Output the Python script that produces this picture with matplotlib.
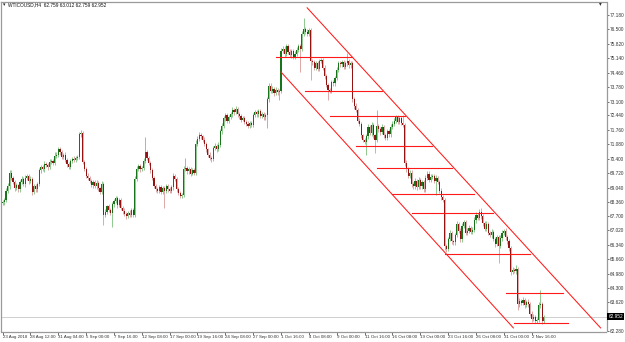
import numpy as np
import matplotlib
matplotlib.use('Agg')
import matplotlib.pyplot as plt
from matplotlib import font_manager

# WTICOUSD H4 closes, 16 bars per row (one x label per row)
closes = [
    68.35, 68.45, 68.9, 69.1, 69.75, 69.5, 69.3, 69.0, 69.15, 68.95, 69.3, 69.45, 69.2, 69.5, 69.6, 69.35,
    69.45, 68.85, 69.1, 68.95, 69.2, 69.85, 70.0, 69.9, 70.15, 70.1, 70.0, 70.25, 70.3, 70.2, 70.55, 70.6,
    70.85, 70.7, 70.5, 70.6, 70.35, 70.15, 70.0, 70.3, 70.4, 70.35, 70.45, 70.5, 71.55, 71.6, 70.25, 69.9,
    69.6, 69.5, 69.35, 69.15, 69.3, 69.1, 69.25, 69.0, 68.85, 69.2, 67.75, 67.9, 68.15, 68.0, 67.85, 68.25,
    68.4, 68.55, 68.2, 68.45, 68.1, 67.95, 67.8, 67.7, 67.85, 67.75, 68.0, 67.75, 69.45, 69.9, 70.05, 69.9,
    69.95, 70.3, 70.7, 70.45, 70.2, 69.85, 69.5, 69.1, 68.95, 68.9, 69.05, 68.85, 69.0, 68.9, 69.1, 68.95,
    68.9, 69.05, 69.6, 69.45, 68.95, 68.8, 68.65, 68.7, 69.9, 69.95, 69.8, 69.9, 69.7, 69.85, 69.75, 71.1,
    71.35, 71.5, 71.45, 71.3, 71.1, 70.85, 70.6, 70.45, 70.4, 70.9, 71.0, 70.85, 71.05, 71.7, 71.95, 72.3,
    72.45, 72.2, 72.35, 72.5, 72.7, 72.6, 72.75, 72.5, 72.4, 72.25, 72.3, 72.15, 72.05, 71.95, 72.1, 72.0,
    72.45, 72.6, 72.5, 72.65, 72.4, 72.5, 72.35, 72.45, 73.2, 73.85, 73.6, 73.7, 73.5, 73.65, 73.55, 73.6,
    75.5, 75.6, 75.35, 75.7, 75.45, 75.3, 75.5, 75.2, 75.35, 75.55, 75.7, 75.6, 76.3, 76.5, 76.4, 76.3,
    76.45, 75.0, 74.95, 74.7, 74.9, 74.65, 75.0, 75.05, 74.7, 74.3, 73.9, 73.65, 73.6, 74.0, 73.95, 74.2,
    74.6, 74.9, 74.85, 74.95, 74.75, 74.9, 75.0, 74.8, 74.9, 73.2, 72.9, 72.7, 72.2, 72.05, 71.5, 71.3,
    71.2, 71.45, 71.9, 71.6, 72.0, 71.5, 71.3, 71.95, 71.8, 71.65, 71.9, 71.5, 71.4, 71.7, 71.55, 71.9,
    72.05, 72.2, 72.35, 72.15, 72.3, 72.1, 72.0, 70.2, 69.9, 69.6, 69.75, 69.2, 69.1, 69.35, 69.05, 69.4,
    69.1, 69.3, 68.95, 69.5, 69.7, 69.4, 69.55, 69.6, 69.35, 69.5, 69.3, 68.9, 68.6, 68.45, 66.3, 66.15,
    66.6, 66.9, 66.5, 66.45, 66.8, 67.3, 67.0, 66.6, 67.25, 67.4, 66.9, 67.0, 67.15, 66.95, 67.05, 67.5,
    67.75, 67.6, 67.9, 67.7, 67.35, 67.1, 67.3, 66.9, 66.8, 66.95, 66.6, 66.4, 66.7, 66.3, 66.65, 66.9,
    67.0, 66.7, 66.5, 66.2, 65.05, 65.15, 65.1, 65.2, 63.55, 63.7, 63.6, 63.75, 63.5, 63.65, 63.55, 63.1,
    62.85, 62.95, 62.75, 62.8, 63.5, 63.55, 62.75, 62.952,
]
first_open = 68.3

# upper / lower wick lengths in cents
wick_up = [
    10, 8, 12, 15, 10, 12, 8, 10, 12, 8, 10, 12, 9, 11, 10, 8,
    12, 10, 9, 11, 8, 12, 10, 9, 14, 10, 8, 12, 10, 9, 15, 12,
    10, 10, 12, 8, 10, 9, 11, 10, 8, 12, 10, 9, 10, 16, 12, 10,
    10, 12, 8, 10, 11, 9, 14, 10, 8, 15, 10, 12, 9, 11, 10, 12,
    12, 10, 9, 11, 10, 8, 12, 9, 10, 11, 10, 9, 12, 14, 10, 9,
    10, 12, 73, 10, 9, 8, 12, 10, 9, 11, 10, 9, 12, 10, 9, 11,
    10, 12, 15, 10, 9, 11, 10, 8, 14, 48, 10, 12, 9, 11, 10, 20,
    12, 14, 10, 9, 11, 10, 8, 12, 10, 9, 14, 10, 12, 10, 12, 10,
    12, 10, 9, 11, 14, 10, 12, 9, 10, 11, 12, 10, 9, 11, 10, 9,
    12, 10, 11, 9, 10, 12, 10, 9, 12, 14, 10, 11, 9, 12, 10, 10,
    14, 12, 10, 11, 9, 12, 10, 9, 11, 10, 12, 10, 14, 54, 10, 12,
    12, 10, 9, 11, 10, 12, 10, 9, 11, 10, 12, 9, 10, 12, 10, 9,
    14, 12, 10, 11, 9, 12, 39, 10, 12, 10, 9, 11, 10, 12, 10, 9,
    10, 12, 14, 11, 12, 10, 9, 75, 10, 12, 14, 9, 11, 12, 10, 12,
    12, 14, 10, 12, 10, 11, 36, 10, 12, 9, 11, 12, 10, 14, 10, 12,
    10, 12, 9, 14, 11, 10, 12, 10, 9, 12, 10, 11, 10, 9, 12, 10,
    12, 14, 10, 9, 11, 18, 10, 12, 14, 12, 10, 11, 12, 10, 11, 14,
    12, 10, 14, 18, 10, 12, 14, 10, 11, 12, 10, 9, 12, 10, 14, 12,
    10, 13, 10, 12, 10, 12, 11, 20, 10, 12, 10, 14, 10, 11, 12, 10,
    10, 12, 9, 10, 14, 66, 10, 6,
]
wick_dn = [
    10, 12, 9, 10, 12, 10, 11, 12, 9, 10, 12, 8, 10, 11, 9, 12,
    10, 14, 11, 12, 10, 9, 12, 10, 11, 9, 12, 10, 11, 9, 10, 12,
    10, 12, 9, 11, 10, 12, 10, 9, 11, 10, 12, 9, 10, 11, 12, 10,
    12, 10, 11, 9, 12, 10, 14, 10, 12, 10, 48, 12, 10, 11, 10, 67,
    12, 10, 11, 9, 12, 14, 10, 12, 10, 11, 12, 10, 9, 11, 10, 12,
    10, 9, 11, 12, 10, 11, 12, 10, 11, 12, 10, 9, 11, 82, 10, 12,
    11, 10, 12, 9, 11, 12, 10, 11, 9, 10, 12, 10, 11, 9, 10, 12,
    10, 11, 12, 10, 9, 11, 12, 10, 14, 11, 10, 12, 10, 11, 12, 10,
    11, 12, 10, 9, 11, 12, 10, 11, 12, 10, 9, 11, 12, 10, 11, 9,
    12, 10, 11, 12, 10, 9, 12, 10, 60, 12, 10, 11, 14, 10, 12, 38,
    10, 12, 14, 11, 10, 12, 14, 10, 11, 12, 10, 111, 10, 12, 11, 10,
    12, 88, 14, 12, 10, 11, 12, 10, 11, 14, 12, 48, 12, 10, 11, 12,
    10, 12, 11, 10, 12, 10, 11, 12, 10, 12, 14, 11, 12, 10, 14, 12,
    11, 62, 12, 10, 11, 12, 63, 10, 12, 11, 10, 14, 12, 10, 11, 12,
    10, 12, 11, 10, 12, 11, 10, 14, 12, 11, 10, 12, 14, 11, 12, 10,
    12, 11, 14, 10, 12, 11, 10, 12, 11, 65, 10, 12, 14, 11, 20, 14,
    12, 10, 14, 11, 12, 10, 12, 14, 11, 10, 12, 11, 10, 12, 11, 10,
    12, 11, 10, 12, 14, 11, 12, 10, 11, 12, 10, 14, 12, 82, 11, 12,
    10, 12, 11, 14, 12, 10, 11, 12, 28, 12, 10, 11, 14, 10, 12, 11,
    14, 12, 10, 11, 10, 12, 14, 8,
]

date_labels = ['23 Aug 2018', '28 Aug 12:00', '31 Aug 04:00', '5 Sep 00:00', '7 Sep 16:00',
               '12 Sep 08:00', '17 Sep 00:00', '19 Sep 16:00', '24 Sep 08:00', '27 Sep 00:00',
               '1 Oct 16:00', '4 Oct 08:00', '9 Oct 00:00', '11 Oct 16:00', '16 Oct 08:00',
               '19 Oct 00:00', '23 Oct 16:00', '26 Oct 08:00', '31 Oct 00:00', '2 Nov 16:00']
price_labels = ['77.180', '76.500', '75.820', '75.140', '74.460', '73.780', '73.100', '72.440',
                '71.760', '71.080', '70.400', '69.720', '69.040', '68.360', '67.700', '67.020',
                '66.340', '65.660', '64.980', '64.300', '63.620', '62.280']

# horizontal levels drawn on the chart: price, first bar, last bar
level_price = [75.20, 73.59, 72.42, 71.00, 69.96, 68.74, 67.84, 65.91, 64.07, 62.65]
level_start = [157, 174, 188, 203, 215, 224, 235, 254, 289, 294]
level_end = [201, 218, 231, 247, 258, 271, 282, 303, 322, 325]

# descending channel: (bar, price) end points
chan_upper = [(175, 77.52), (343.6, 62.42)]
chan_lower = [(160, 74.49), (293.5, 62.42)]

title = 'WTICOUSD,H4  62.759 63.012 62.759 62.952'
last_price = 62.952

# narrow font for the tiny terminal labels if it is there
installed = {f.name for f in font_manager.fontManager.ttflist}
small_font = 'Liberation Sans Narrow' if 'Liberation Sans Narrow' in installed else 'Liberation Sans'
plt.rcParams['font.family'] = [small_font, 'DejaVu Sans']

c = np.array(closes)
o = np.r_[first_open, c[:-1]]
hi = np.maximum(o, c) + np.array(wick_up) / 100
lo = np.minimum(o, c) - np.array(wick_dn) / 100
x = np.arange(len(c))
bull = c >= o

W, H = 625, 342
fig = plt.figure(figsize=(W / 100, H / 100), dpi=100)
fig.patch.set_facecolor('white')
ax = fig.add_axes([1.5 / W, 1 - 331.5 / H, 605 / W, 330 / H])
ax.set_xlim(-0.6, 347)
ax.set_ylim(62.251, 77.817)

# candles
for mask, body_col, wick_col in [(bull, '#187418', '#7fbf7f'), (~bull, '#931212', '#d89a9a')]:
    ax.vlines(x[mask], lo[mask], hi[mask], color=wick_col, lw=0.6, zorder=2)
    bottom = np.minimum(o, c)[mask]
    height = np.maximum(np.abs(c - o)[mask], 0.03)
    ax.bar(x[mask], height, bottom=bottom, width=0.66, color=body_col, lw=0, zorder=3)

# current price line
ax.axhline(last_price, color='#c8c8c8', lw=0.6, zorder=1)

# levels and channel
for p, s, e in zip(level_price, level_start, level_end):
    ax.plot([s, e], [p, p], color='#ff1a1a', lw=0.8, zorder=4)
for line in (chan_upper, chan_lower):
    (x0, y0), (x1, y1) = line
    ax.plot([x0, x1], [y0, y1], color='#ff1a1a', lw=0.75, zorder=4)

# axes styling
for side in ['left', 'right', 'top', 'bottom']:
    ax.spines[side].set_color('#9a9a9a')
    ax.spines[side].set_linewidth(0.9)
ax.yaxis.tick_right()
ax.set_yticks([float(v) for v in price_labels])
ax.set_yticklabels(price_labels)
ax.set_xticks(np.arange(len(date_labels)) * 16)
ax.set_xticklabels(date_labels)
ax.tick_params(axis='y', length=1.5, width=0.5, pad=1, labelsize=3.4, colors='#333333')
ax.tick_params(axis='x', length=2, width=0.5, pad=0.8, labelsize=3.2, colors='#333333')
plt.setp(ax.get_xticklabels(), ha='left')

# current price tag
ax.text(1.003, last_price, '62.952', transform=ax.get_yaxis_transform(), fontsize=3.4,
        color='white', va='center', ha='left', clip_on=False,
        bbox=dict(boxstyle='square,pad=0.25', facecolor='black', edgecolor='none'))

# header text
fig.text(3 / W, 1 - 5 / H, '\u25BE', fontsize=3.5, color='#222222', va='center', ha='left',
         family='DejaVu Sans')
fig.text(8 / W, 1 - 5 / H, title, fontsize=3.4, color='#111111', va='center', ha='left')
fig.text(599 / W, 1 - 4 / H, '\u25BE', fontsize=4, color='#333333', va='center', ha='left',
         family='DejaVu Sans')

fig.savefig('out.png', dpi=100)
